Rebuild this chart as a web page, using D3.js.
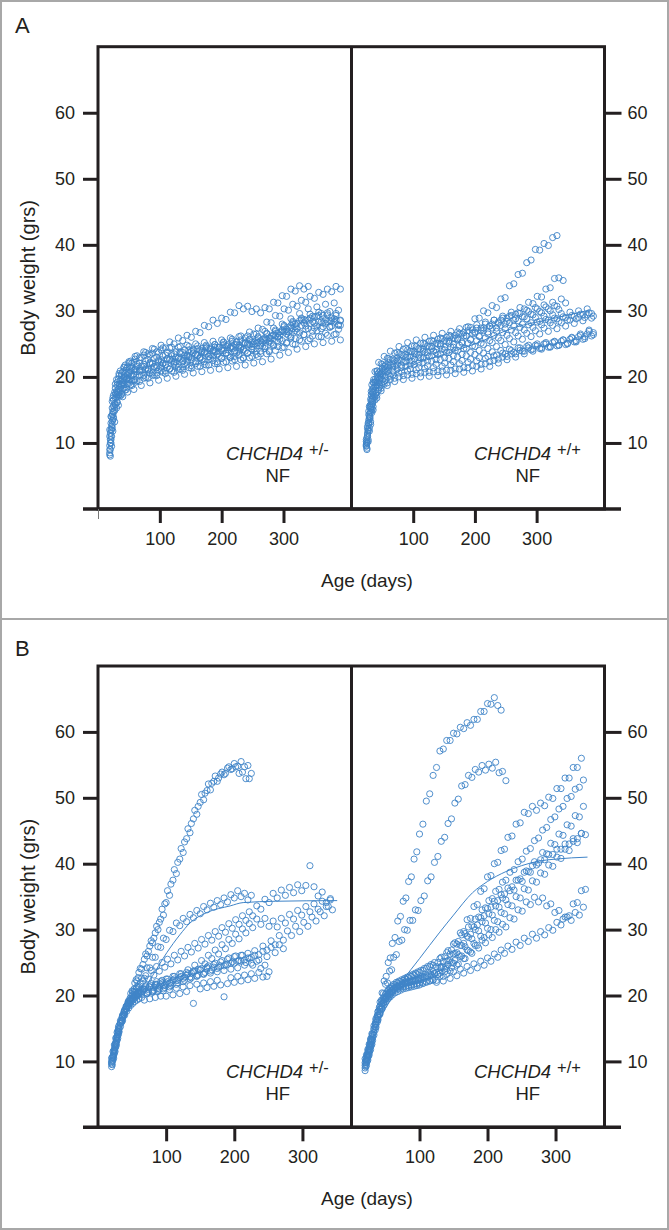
<!DOCTYPE html>
<html><head><meta charset="utf-8">
<script src="https://cdn.jsdelivr.net/npm/d3@7"></script>
<style>
html,body{margin:0;padding:0;background:#fff;}
svg{display:block;}
text{font-family:"Liberation Sans",Arial,Helvetica,sans-serif;fill:#231f20;}
</style></head><body>
<svg id="chart" width="669" height="1230"></svg>
<script>
// ---------- labels / ticks ----------
const xTickValues = [100, 200, 300];
const yTickValues = [10, 20, 30, 40, 50, 60];
const panelLetters = ["A", "B"];
const dietLabels = ["NF", "HF"];
const genotypeLabels = ["+/-", "+/+"];
const geneName = "CHCHD4";
const xAxisTitle = "Age (days)";
const yAxisTitle = "Body weight (grs)";

// ---------- measurement days (ages) ----------
const SA  = [19,21,23,25,28,31,34,38,42,46, 50,55,60,67,74,81,88,95,102,109, 116,123,130,137,144,151,158,165,172,179, 186,193,200,207,214,221,228,235,242,249, 256,263,270,277,284,291,298,305,312,319, 326,333,340,347,354,361,368,375,382,389];
const SA2 = [20,22,24,27,30,33,36,40,44,48, 53,58,63,70,77,84,91,98,105,112, 119,126,133,140,147,154,161,168,175,182, 189,196,203,210,217,224,231,238,245,252, 259,266,273,280,287,294,301,308,315,322, 329,336,343,350,357,364,371,378,385,392];
const SR  = [24,26,28,30,32,34,36,39,42,46, 50,55,60,67,74,81,88,95,102,109, 116,123,130,137,144,151,158,165,172,179, 186,193,200,207,214,221,228,235,242,249, 256,263,270,277,284,291,298,305,312,319, 326,333,340,347,354,361,368,375,382,389];
const SR2 = [25,27,29,31,33,35,38,41,44,48, 53,58,63,70,77,84,91,98,105,112, 119,126,133,140,147,154,161,168,175,182, 189,196,203,210,217,224,231,238,245,252, 259,266,273,280,287,294,301,308,315,322, 329,336,343,350,357,364,371,378,385,392];
const SB  = [20,22,24,26,28,30,33,36,39,42, 45,48,51,54,57,60,64,68,72,76, 80,84,88,92,96,100,105,110,115,120, 125,130,135,140,145,150,155,160,165,170, 175,180,185,190,195,200,205,210,215,220, 225,230,236,242,248,254,260,266,272,278, 284,290,296,302,308,314,320,326,332,338, 344];
const SB2 = [21,23,25,27,29,31,35,38,41,44, 47,50,53,56,59,62,66,70,74,78, 82,86,90,94,98,102,107,112,117,122, 127,132,137,142,147,152,157,162,167,172, 177,182,187,192,197,202,207,212,217,222, 227,233,239,245,251,257,263,269,275,281, 287,293,299,305,311,317,323,329,335,341];

// ---------- A: normal food, CHCHD4 +/- ----------
const nfHetDays = [SA, SA2, SA, SA2, SA, SA2, SA, SA2, SA, SA2, SA];
const nfHetWeights = [
 [8.5,10.5,12.8,13.9,15.8,16.2,17.6,17.5,18.8,18.4, 19.6,19.4,19.2,20.3,19.8,20.9,20.2,20.6,21.5,20.9, 21.2,21.9,21.1,21.5,22.4,21.7,22.3,22.8,21.9,22.6, 23.2,22.3,22.8,23.6,22.9,23.1,23.9,22.9,23.6,24.2, 23.4,23.9,24.6,23.8,24.7,25.3,24.4,25.1,25.9,24.9, 25.6,26.4,25.5,26.2,27,26.1,26.6,27.5,26.4,27.2],
 [10,12,14.3,15.4,17.3,17.8,18.9,19.1,20,19.8, 20.9,20.4,21.6,21,21.3,22.2,21.5,22.6,22,22.8, 23.2,22.3,23.5,22.8,23.1,24,23.2,23.7,24.4,23.4, 24.5,23.8,24.9,24.1,24.6,25.3,24.3,25.1,25.6,24.9, 25.9,25.2,26.5,25.8,26.9,26.3,27.6,26.8,28.2,27.3, 28.6,27.7,28.9,28.1,29.3,28.2,29.4,28.5,29.6,28.6],
 [11,13,15.3,16.5,18.3,18.8,20.2,20.2,21.4,21, 22.1,21.5,22.7,22.1,23.3,22.6,23.6,23,24.1,23.3, 24.4,23.5,24.5,23.7,24.8,23.9,25,24.1,25.2,24.3, 25.4,24.5,25.6,24.7,25.9,24.9,26.1,25.1,26.2,25.3, 26.5,25.5,26.9,25.9,27.4,26.6,28,27.2,28.8,28, 29.6,28.7,30.3,29.2,30.6,29.6,31,29.9,31.2,30.1],
 [8,9.5,11.8,13.2,15.3,15.7,17.1,17,18,17.7, 18.8,18.1,19.4,18.7,19.9,19.1,20.3,19.5,20.7,19.8, 20.9,20.1,21.2,20.4,21.4,20.6,21.6,20.8,21.8,21, 22,21.2,22.2,21.4,22.4,21.6,22.6,21.8,22.9,22.1, 23.1,22.3,23.5,22.7,24,23.3,24.5,23.7,25,24.2, 25.4,24.6,25.8,25,26.1,25.2,26.3,25.4,26.5,25.6],
 [12,14,16.3,17.2,18.9,19.2,20.5,20.5,21.5,21.3, 22.3,22.1,23.1,22.9,23.8,23.5,24.3,23.8,24.8,24.4, 25.3,25,25.9,25.5,26.3,26,26.9,26.7,27.8,27.6, 28.6,28.1,28.9,28.7,29.8,29.7,30.8,30.3,30.7,29.9, 30.3,29.7,30.5,30.3,31.3,31.2,32.3,32.2,33.3,33, 33.8,33.3,33.7],
 [10.5,12.5,14.8,16,17.8,18.2,19.5,19.5,20.5,20.3, 21.3,21,21.9,21.6,22.4,22,22.8,22.4,23.2,22.7, 23.5,23,23.8,23.3,24.1,23.6,24.3,23.9,24.6,24.2, 24.9,24.5,25.3,24.9,25.7,25.3,26.2,25.9,26.8,26.5, 27.4,27.2,28.3,28.2,29.3,29.2,30.3,30.1,31,30.7, 31.6,31.3,32.2,31.9,32.8,32.5,33.3,32.9,33.7,33.3],
 [9,11,13.3,14.7,16.8,17.3,18.7,18.7,19.8,19.6, 20.5,20.2,21.2,21,21.9,21.2,22.1,21.7,22.6,21.9, 22.7,22.3,22.8,22.5,23.3,22.9,23.4,23,23.8,23.1, 23.9,23.5,24,23.6,24.4,23.7,24.5,24.1,24.9,24.2, 25.1,24.7,25.6,25.3,26.3,26.1,27.1,26.9,27.8,27.6, 28.5,28.2,28.6,28.4,29.2,28.3,28.7,28.5,28.8,27.9],
 [11.5,14,16.8,17.7,19.6,19.7,20.9,20.8,21.8,21.5, 22.4,22.2,23.2,22.9,23.7,23.3,24.2,23.7,24.4,23.7, 24.5,23.8,24.6,24.1,24.6,24.2,24.7,24.3,24.8,24.4, 24.9,24.5,25.2,24.7,25.4,24.9,25.6,25.2,25.7,25.3, 26.1,25.7,26.6,26.2,27.1,26.8,27.8,27.5,28.4,28.1, 28.9,28.6,29.5,29.1,29.8,29.3,29.7,28.9,29.3,28.5],
 [8.2,10,12.3,13.7,15.8,16.1,17.3,17.3,18.3,18.1, 19,18.7,19.6,19.3,20.2,19.8,20.6,20.2,20.9,20.5, 21.2,20.7,21.5,21,21.8,21.3,22,21.6,22.3,21.8, 22.5,22,22.8,22.3,23,22.6,23.3,22.8,23.6,23.1, 23.9,23.5,24.3,24,24.9,24.6,25.5,25.2,26.1,25.8, 26.7,26.4,27.3,26.9,27.7,27.3,28.1,27.6,28.3,27.8],
 [9,11,13.5,14.9,16.9,17.1,18.4,18.2,19.4,19, 20.1,19.6,20.8,20.3,21.1,20.6,21.6,21.1,22.1,21.4, 22.4,21.7,22.7,22,23,22.3,23.3,22.6,23.5,22.8, 23.8,23.1,24,23.3,24.3,23.6,24.5,23.9,24.9,24.2, 25.2,24.6,25.6,25.1,26.2,25.7,26.8,26.3,27.3,26.8, 27.8,27.2,28.1,27.4,28.3,27.6,28.4,27.7,28.6,27.8],
 [9.6,12,14.3,15.6,17.4,17.7,19,18.9,20,19.7, 20.7,20.2,21.1,20.8,21.6,21.1,22,21.4,22.2,21.8, 22.6,22.1,22.9,22.3,23.1,22.6,23.4,22.9,23.7,23.1, 24,23.4,24.3,23.6,24.5,23.9,24.8,24.2,25.1,24.6, 25.5,25,25.9,25.5,26.4,26,26.9,26.5,27.4,27]
];

// ---------- A: normal food, CHCHD4 +/+ ----------
const nfWtDays = [SR, SR2, SR, SR2, SR, SR2, SR, SR2, SR, SR2];
const nfWtWeights = [
 [9.5,11,12.8,13.7,15.5,15.9,17.3,17.5,18.7,18.6, 19.6,19.5,20.5,20.3,21.2,20.8,21.6,21.2,21.9,21.4, 22.2,21.7,22.4,21.9,22.6,22.1,22.8,22.3,23,22.5, 23.2,22.7,23.4,22.9,23.6,23.1,23.8,23.3,24,23.5, 24.2,23.7,24.4,23.9,24.6,24.1,24.8,24.3,25,24.5, 25.2,24.7,25.4,24.9,25.7,25.3,26.1,25.7,26.5,26.2],
 [10,11.8,13.8,14.7,16.6,17,18.5,18.7,19.9,19.8, 20.9,20.8,21.8,21.6,22.5,22.2,23,22.4,23.4,22.9, 23.7,23.1,23.9,23.4,24.2,23.7,24.5,24,24.8,24.3, 25.1,24.7,25.5,25.1,25.9,25.5,26.3,25.9,26.7,26.3, 27.1,26.7,27.5,27.1,27.9,27.5,28.3,27.9,28.7,28.2, 28.9,28.4,29.1,28.6,29.3,28.8,29.5,29,29.7,29.2],
 [10.5,12.5,14.8,15.7,17.8,18.2,19.6,19.7,20.9,20.8, 21.9,21.8,22.8,22.7,23.7,23.4,24.3,23.9,24.7,24.3, 25.1,24.7,25.5,25.1,25.9,25.5,26.3,25.9,26.8,26.5, 27.5,27.5,28.8,28.9,30,29.7,30.8,30.5,31.8,32, 33.8,34.1,35.5,35.7,37.3,37.7,39.3,39.2,40.2,39.9, 41.1,41.4],
 [10,12,14.1,15.2,17.1,17.6,19.2,19.4,20.6,20.5, 21.6,21.5,22.6,22.5,23.5,23.2,24.1,23.8,24.6,24.2, 25,24.6,25.4,25,25.8,25.4,26.2,25.8,26.6,26.2, 27,26.6,27.4,27.1,28,27.7,28.6,28.3,29.2,28.9, 29.8,29.5,30.5,30.3,31.3,31.1,32.2,32.1,33.3,33.5, 34.9,35,34.6],
 [9.8,11.5,13.5,14.5,16.3,16.8,18.3,18.6,19.8,19.7, 20.8,20.7,21.7,21.5,22.4,21.8,23,22.4,23.5,22.9, 23.9,23.3,24.3,23.7,24.7,24.1,25.1,24.5,25.6,25.1, 26.2,25.6,26.8,26.2,27.4,26.8,28,27.4,28.6,28, 29.2,28.6,29.7,29.1,30.1,29.5,30.5,29.9,30.9,30.3, 31.3,30.7,31.8,31.2],
 [10.8,13,15.5,16.6,18.8,19.2,20.8,20.9,22.2,22, 23.1,22.8,23.9,23.6,24.6,24.2,25.2,24.7,25.6,25.1, 26,25.4,26.3,25.7,26.6,26,26.9,26.3,27.3,26.7, 27.6,27.1,27.9,27.4,28.3,27.7,28.6,28.1,28.9,28.4, 29.3,28.8,29.6,29.1,29.9,29.4,30.3,29.7,30.6,30, 30.8,30.2],
 [9.6,11.2,13.1,14,15.9,16.3,17.8,18,19.2,19.1, 20.2,20.1,21.1,20.9,21.8,21.4,22.3,21.8,22.7,22.1, 22.9,22.4,23.2,22.6,23.5,22.9,23.7,23.2,24,23.4, 24.3,23.7,24.6,24,24.9,24.3,25.2,24.6,25.5,24.9, 25.8,25.3,26.2,25.7,26.6,26.1,27,26.5,27.4,26.9, 27.8,27.3,28.2,27.7,28.6,28.1,29,28.5,29.4,28.9],
 [9.2,10.5,12.3,13.2,15.1,15.5,17,17.2,18.4,18.3, 19.3,19.1,20.1,19.8,20.6,20.2,20.9,20.4,21.1,20.6, 21.3,20.7,21.4,20.8,21.6,21,21.8,21.2,22,21.4, 22.2,21.7,22.4,21.9,22.8,22.3,23.2,22.7,23.6,23.1, 24,23.5,24.4,23.9,24.8,24.2,25,24.4,25.2,24.6, 25.4,24.8,25.6,25,25.9,25.3,26.3,25.8,26.9,26.4],
 [10.2,12.2,14.3,15.4,17.3,17.7,19.1,19.2,20.4,20.3, 21.3,21.2,22.2,22,22.9,22.5,23.4,23,23.8,23.3, 24.2,23.7,24.6,24.1,25,24.5,25.4,24.9,25.8,25.3, 26.2,25.7,26.6,26.1,27,26.5,27.4,26.9,27.8,27.3, 28.2,27.7,28.5,28,28.8,28.2,29,28.4,29.2,28.6, 29.4,28.8,29.6,29,29.8,29.2,30,29.4,30.3,29.6],
 [9,10.2,11.8,12.8,14.6,15,16.5,16.8,18,17.9, 18.9,18.7,19.6,19.3,20,19.6,20.3,19.8,20.5,20, 20.7,20.1,20.8,20.2,20.9,20.3,21,20.5,21.2,20.7, 21.4,20.9,21.6,21.2,22,21.6,22.5,22.1,23,22.6, 23.5,23,24,23.5,24.4,23.9,24.7,24.2,25,24.5, 25.3,24.8,25.6,25.1,26,25.5,26.5,26.1,27.1,26.7]
];
const nfWtFit = [[24,11],[40,16.5],[60,19.5],[100,21.8],[150,23.4],[200,25],[265,27.5],[320,28.7],[385,30.1]];

// ---------- B: high-fat food, CHCHD4 +/- ----------
const hfHetDays = [SB, SB2, SB, SB2, SB, SB2, SB, SB2, SB];
const hfHetWeights = [
 [10,10.8,11.8,12.8,13.8,14.6,15.8,16.8,17.6,18.4, 19.2,20.3,20.6,21.9,22.2,23.5,24,25.5,26,27.5, 28,29.5,30,31.6,32.2,34.1,35.2,37.5,38.5,40.7, 41.7,43.8,44.7,46.8,47.5,49.3,49.7,51.1,51.2,52.5, 52.5,53.6,53.5,54.5,54.3,55.2,54.8,55.5,54.7,54.9, 53.7],
 [9.5,10.5,11.5,12.5,13.5,14.5,16,17,18,18.8, 19.3,20.7,21,22.4,22.7,24.1,24.7,26.3,26.7,28.3, 28.7,30.5,31.1,33.1,33.9,35.9,36.9,39.1,40.2,42.3, 43.3,45.3,46.1,48.1,48.7,50.5,50.7,52.1,52.2,53.3, 53,53.9,53.7,54.7,54.4,54.7,53.7,53.9,52.9,52.9],
 [10.5,11.5,12.5,13.5,14.4,15.2,16.2,17,17.8,18.4, 19,19.5,20,20.5,21.3,21.2,22.6,22.6,24.2,24.2, 25.8,25.8,27.4,27.3,28.7,28.5,29.9,29.7,31,30.6, 31.7,31.2,32.3,31.8,32.9,32.4,33.5,33,34,33.4, 34.4,33.8,34.8,34.2,35.3,34.8,35.9,35,35.5,34.5, 35.2],
 [10,11,12,13,14,15,16.3,17.2,18,18.6, 19.1,19.5,19.8,20.1,20.3,20.5,20.7,21.3,20.6,21.5, 20.8,21.7,21,21.9,21.2,22.1,21.5,22.5,21.9,22.9, 22.3,23.3,22.7,23.7,23.1,24.1,23.5,24.5,23.9,24.9, 24.3,25.3,24.7,25.7,25.1,26,25.3,26.1,25,25.6, 24.6,25.2,24.1,24.6,23.6],
 [9.2,10.2,11.2,12.2,13.2,14.1,15.3,16.2,17,17.6, 18.1,18.5,18.8,19.1,19.3,19.5,19.7,19.3,20.3,19.5, 20.5,19.7,20.6,19.9,20.7,19.9,20.9,20.1,21.1,20.3, 21.3,20.6,21.5,18.8,21.7,21,21.9,21.2,22.1,21.4, 22.3,21.6,19.8,21.8,22.7,22,22.9,22.2,23.1,22.4, 23.3,22.6,23.5,22.8,22.9],
 [10.2,11.2,12.2,13.2,14.2,15,16.2,17.2,18,18.7, 19.2,19.6,20,20.3,20.6,20.8,21,21.5,20.9,21.8, 21.2,22.1,21.4,22.3,21.6,22.5,21.9,22.9,22.3,23.3, 22.8,23.9,23.4,24.6,24,25.3,24.8,26.1,25.6,26.9, 26.3,27.7,27.1,28.5,27.9,29.3,28.6,30.1,29.5,30.9, 30.3,31.6,30.8,31.7,30.5,31.3,30.4,31.7,31,32.3, 31.6,32.9,32.2,33.5,32.7,33.9,33.1,34.3,33.5,34.7],
 [9.8,10.8,11.8,12.8,13.8,14.8,16,16.9,17.7,18.3, 18.8,19.2,19.6,19.9,20.1,20.3,20.5,21,20.4,21.3, 20.6,21.5,20.8,21.7,21,21.9,21.3,22.3,21.7,22.7, 22.1,23.1,22.5,23.5,22.9,23.9,23.3,24.3,23.7,24.7, 24.1,25.1,24.5,25.5,24.9,25.9,25.2,26.1,25.4,26.4, 25.8,26.8,26.2,27.5,26.9,28.3,27.7,29.1,28.4,29.8, 29.1,30.5,29.7,31.1,30.5,31.9,31.3,32.7,32.1,33.5, 33],
 [10.6,11.6,12.6,13.6,14.6,15.5,16.6,17.5,18.3,19, 19.6,20.1,20.6,21,21.4,21.8,22.2,23,22.5,23.8, 23.1,24.4,23.7,25,24.3,25.5,24.8,26.1,25.4,26.7, 26,27.3,26.6,27.9,27.2,28.5,27.8,29.1,28.4,29.7, 29,30.3,29.6,30.9,30.2,31.5,30.8,32.1,31.4,32.7, 32.1,33.6,33.1,34.6,34.1,35.5,34.8,36,35.2,36.4, 35.6,36.8,35.9,36.7,39.7,36.5,35.1,35.7,34.1,34.5],
 [9.6,10.6,11.6,12.6,13.6,14.5,15.7,16.6,17.4,18, 18.5,18.9,19.3,19.6,19.9,20.1,20.3,20.9,20.3,21.3, 20.7,21.7,21.1,22.1,21.5,22.5,21.9,22.9,22.3,23.3, 22.6,23.5,22.8,23.7,23,23.9,23.2,24.1,23.4,24.3, 23.6,24.5,23.8,24.7,24,24.9,24.2,25.2,24.6,25.7, 24.9,26.1,25.4,26.7,25.9,27.3,26.5,27.7,27.1]
];
const hfHetFit = [[20,11.5],[40,17],[60,19.8],[69,21.2],[80,23],[101,26.5],[120,29.2],[135,31],[160,32.6],[194,33.6],[213,34.1],[260,34.3],[351,34.4]];

// ---------- B: high-fat food, CHCHD4 +/+ ----------
const hfWtDays = [SB, SB2, SB, SB2, SB, SB2, SB, SB2, SB];
const hfWtWeights = [
 [9.8,10.6,11.4,12.2,13,13.8,15,16.3,17.6,19, 20.4,22.2,22.9,25,25.7,27.9,28.8,31.3,32,34.3, 34.8,37.3,38,40.7,41.8,44.5,46,49.5,50.6,53.4, 54.6,57.1,57.4,58.7,58.7,59.8,59.7,60.7,60.5,61.4, 61,61.9,61.9,63.1,63.1,64.3,64.2,65.2,64,63.3],
 [10.2,11,11.8,12.6,13.4,14.2,15.8,17,18.2,19.3, 20.3,21.7,21.9,23.7,23.9,25.8,26.2,28.2,28.4,30, 29.9,31.4,31.4,33,32.9,34.4,35.1,37.4,38,40.2, 41.1,43.4,44,46.1,46.8,49.2,49.8,51.8,52,53.4, 53.1,54.3,53.9,54.9,54.2,55.1,54.5,55.4,53.8,54, 52.6],
 [10.4,11,11.8,12.6,13.4,14.2,15.4,16.5,17.5,18.4, 19.2,19.8,20.3,20.7,21,21.3,21.6,21.9,22.1,22.3, 22.5,22.7,22.9,23.1,23.3,23.5,23.8,24.1,24.4,24.6, 24.4,25.6,25.2,26.5,26.3,27.8,27.8,29.5,29.7,31.5, 31.7,33.5,33.8,35.8,36.2,38,38.2,40,40.2,42, 42.2,44,44.2,46,46.2,47.8,47.6,48.7,48.1,49.2, 48.8,50.1,49.9,51.4,51.4,53,53,54.6,54.6,56],
 [9.2,10,10.8,11.6,12.4,13.2,14.8,16,17.1,18, 18.8,19.4,19.9,20.3,20.6,20.9,21.2,21.4,21.6,21.8, 21.9,22,22.1,22.2,22.3,22.4,22.6,22.8,23,23.3, 23.2,24.4,24,25.3,25,26.4,26.2,27.6,27.4,28.8, 28.6,30,29.8,31.2,31,32.4,32.2,33.6,33.4,34.8, 34.5,35.9,36,37.5,37.3,38.9,38.7,40.3,40.1,41.7, 41.5,43.1,42.9,44.5,44.3,45.9,45.7,47.3,47.1,48.7],
 [8.6,9.4,10.2,11,11.8,12.6,14,15.2,16.3,17.2, 18,18.6,19.1,19.5,19.8,20.1,20.4,20.6,20.8,21, 21.1,21.2,21.3,21.4,21.5,21.6,21.8,22,22.2,22.4, 22.3,23.4,22.9,24.1,23.7,24.9,24.6,25.9,25.6,26.9, 26.6,27.9,27.6,29,28.8,30.2,30,31.4,31.2,32.6, 32.4,33.8,33.6,35,34.8,36.2,36,37.4,37.2,38.6, 38.4,39.8,39.6,41,40.8,42.2,42,43.4,43.2,44.6, 44.4],
 [9.6,10.4,11.2,12,12.8,13.6,15.2,16.3,17.3,18.2, 19,19.6,20.1,20.5,20.8,21.1,21.4,21.6,21.8,22, 22.1,22.2,22.3,22.4,22.5,22.6,22.8,23,23.2,23.4, 23.2,24.2,23.6,24.7,24.2,25.3,24.8,26,25.6,26.8, 26.4,27.6,27.2,28.4,28,29.2,28.8,30,29.6,30.8, 30.4,31.8,31.6,33,32.8,34.2,33.8,34.9,34.2,34.8, 33.6,33.9,32.6,32.9,31.6,31.9,31.4,32.6,32.2,33.4],
 [9,9.8,10.6,11.4,12.2,13,14.4,15.6,16.7,17.6, 18.4,19,19.5,19.9,20.2,20.5,20.8,21,21.2,21.3, 21.4,21.5,21.6,21.7,21.8,21.9,22,22.1,22.2,22.3, 22,22.9,22.2,23.2,22.6,23.6,23,24,23.4,24.4, 23.8,24.8,24.2,25.2,24.6,25.7,25.2,26.3,25.8,26.9, 26.4,27.5,27,28.1,27.6,28.7,28.2,29.3,28.7,29.7, 29.2,30.3,29.9,31.1,30.7,31.9,32.1,33.9,34.1,35.9, 36.1],
 [10,10.8,11.6,12.4,13.2,14,15.6,16.8,17.9,18.8, 19.6,20.2,20.7,21.1,21.4,21.7,22,22.2,22.4,22.6, 22.8,23,23.2,23.4,23.6,23.8,24.1,24.4,24.7,25, 25,25.8,25.9,26.8,26.9,28,28.2,29.2,29.4,30.4, 30.6,31.6,31.9,33,33.3,34.4,34.7,35.8,36.1,37.2, 37.5,38.7,39.1,40.3,40.7,41.9,42.3,43.5,43.9,45.1, 45.5,46.7,47.1,48.3,48.7,49.9,50.2,51.3,51.6,52.7],
 [9.4,10.2,11,11.8,12.6,13.4,14.8,16,17,17.9, 18.7,19.3,19.8,20.2,20.5,20.8,21.1,21.3,21.5,21.7, 21.9,22,22.1,22.2,22.4,22.6,22.8,23,23.3,23.6, 23.5,24.3,24.3,25.2,25.3,26.3,26.5,27.6,27.9,29, 29.3,30.4,30.7,31.8,32.1,33.2,33.4,34.3,34.4,35.3, 35.4,36.3,36.5,37.5,37.7,38.7,38.8,39.7,39.8,40.6, 40.6,41.4,41.4,42.2,42.2,43,43,43.8,43.8,44.6]
];
const hfWtFit = [[20,10.5],[40,16],[60,19.8],[75,22.2],[100,25.6],[129,29.5],[150,32.2],[178,35.6],[200,37.3],[227,38.8],[250,39.7],[276,40.4],[300,40.7],[347,41]];

// ---------- drawing ----------
const INK = "#231f20", BLUE = "#3f84c8", GRID = "#a8a8a8";
const svg = d3.select("#chart");

svg.append("rect").attr("x", 1).attr("y", 1).attr("width", 667).attr("height", 1228)
  .attr("fill", "none").attr("stroke", GRID).attr("stroke-width", 2);
svg.append("line").attr("x1", 0).attr("x2", 669).attr("y1", 619).attr("y2", 619)
  .attr("stroke", GRID).attr("stroke-width", 2);

const frameL = 98, frameM = 351.5, frameR = 604.5;
const rows = [
  { letterY: 33, top: 46.7, bottom: 509, xMax: 410, thinZero: true,
    sub: [ {days: nfHetDays, w: nfHetWeights, fit: null},
           {days: nfWtDays, w: nfWtWeights, fit: nfWtFit} ] },
  { letterY: 656, top: 666, bottom: 1127.3, xMax: 372, thinZero: false,
    sub: [ {days: hfHetDays, w: hfHetWeights, fit: hfHetFit},
           {days: hfWtDays, w: hfWtWeights, fit: hfWtFit} ] }
];
const labelPos = [ {gene: 226, sup: 309, diet: 265.5}, {gene: 474, sup: 557, diet: 515.5} ];

rows.forEach((row, ri) => {
  const g = svg.append("g");
  const y = d3.scaleLinear().domain([0, 70]).range([row.bottom, row.top]);
  const xs = [
    d3.scaleLinear().domain([0, row.xMax]).range([frameL, frameM]),
    d3.scaleLinear().domain([0, row.xMax]).range([frameM, frameR])
  ];

  row.sub.forEach((s, si) => {
    const x = xs[si];
    if (s.fit) {
      g.append("path").datum(s.fit)
        .attr("d", d3.line().x(d => x(d[0])).y(d => y(d[1])).curve(d3.curveMonotoneX))
        .attr("fill", "none").attr("stroke", BLUE).attr("stroke-width", 1);
    }
    const pts = [];
    s.w.forEach((arr, i) => arr.forEach((v, j) => { if (v != null) pts.push([s.days[i][j], v]); }));
    g.append("g").selectAll("circle").data(pts).join("circle")
      .attr("cx", d => x(d[0])).attr("cy", d => y(d[1])).attr("r", 3.1)
      .attr("fill", "none").attr("stroke", BLUE).attr("stroke-width", 1).attr("stroke-opacity", 0.9);
  });

  // frame
  g.append("rect").attr("x", frameL).attr("y", row.top).attr("width", frameR - frameL)
    .attr("height", row.bottom - row.top).attr("fill", "none").attr("stroke", INK).attr("stroke-width", 3);
  g.append("line").attr("x1", frameM).attr("x2", frameM).attr("y1", row.top).attr("y2", row.bottom)
    .attr("stroke", INK).attr("stroke-width", 3);
  g.append("line").attr("x1", 83).attr("x2", 621).attr("y1", row.bottom).attr("y2", row.bottom)
    .attr("stroke", INK).attr("stroke-width", 3.5);
  if (row.thinZero) {
    g.append("line").attr("x1", frameL + 0.5).attr("x2", frameL + 0.5).attr("y1", row.bottom).attr("y2", row.bottom + 10)
      .attr("stroke", "#777").attr("stroke-width", 1);
  }

  // axes
  const styleAxis = sel => {
    sel.select(".domain").remove();
    sel.selectAll(".tick line").attr("stroke", INK).attr("stroke-width", 3);
    sel.selectAll(".tick text").attr("fill", INK).style("font-size", "18px")
      .style("font-family", "'Liberation Sans', Arial, sans-serif");
  };
  xs.forEach(x => {
    g.append("g").attr("transform", `translate(0,${row.bottom})`)
      .call(d3.axisBottom(x).tickValues(xTickValues).tickSize(14).tickPadding(9))
      .call(styleAxis);
  });
  g.append("g").attr("transform", `translate(${frameL},0)`)
    .call(d3.axisLeft(y).tickValues(yTickValues).tickSize(15).tickPadding(8)).call(styleAxis);
  g.append("g").attr("transform", `translate(${frameR},0)`)
    .call(d3.axisRight(y).tickValues(yTickValues).tickSize(17).tickPadding(6)).call(styleAxis);

  // titles
  g.append("text").attr("x", 15).attr("y", row.letterY).text(panelLetters[ri]).style("font-size", "22px");
  g.append("text").attr("x", 367).attr("y", row.bottom + 78).attr("text-anchor", "middle")
    .style("font-size", "19px").text(xAxisTitle);
  const yc = (row.top + row.bottom) / 2;
  g.append("text").attr("transform", `translate(35,${yc}) rotate(-90)`).attr("text-anchor", "middle")
    .style("font-size", "20px").text(yAxisTitle);

  // genotype / diet labels
  labelPos.forEach((p, si) => {
    const t = g.append("text").style("font-size", "18.5px");
    t.append("tspan").attr("x", p.gene).attr("y", row.bottom - 49).style("font-style", "italic").text(geneName);
    t.append("tspan").attr("x", p.sup).attr("y", row.bottom - 54).style("font-size", "16.5px").text(genotypeLabels[si]);
    t.append("tspan").attr("x", p.diet).attr("y", row.bottom - 27.5).text(dietLabels[ri]);
  });
});
</script>
</body></html>
